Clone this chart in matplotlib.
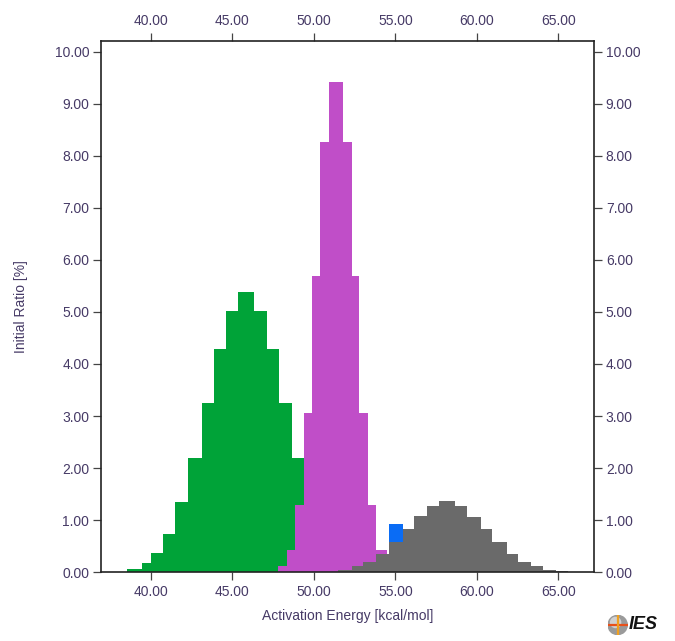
import numpy as np
import matplotlib
matplotlib.use("Agg")
import matplotlib.pyplot as plt
from matplotlib.patches import Circle

plt.rcParams.update({"font.family": ["Liberation Sans", "DejaVu Sans"], "font.size": 10})

# activation energy bins (kcal/mol edges) and initial ratio (%) per component
green_edges = [38.51, 39.43, 40.00, 40.76, 41.47, 42.29, 43.11, 43.87, 44.59, 45.36,
               46.32, 47.14, 47.84, 48.67, 49.39, 50.17, 50.95, 51.73, 52.51, 53.29]
green_ratio = [0.06, 0.17, 0.37, 0.74, 1.34, 2.20, 3.25, 4.28, 5.02, 5.38,
               5.02, 4.28, 3.25, 2.20, 1.34, 0.74, 0.37, 0.17, 0.06]

magenta_edges = [47.81, 48.33, 48.84, 49.39, 49.86, 50.37, 50.93, 51.80, 52.32,
                 52.79, 53.34, 53.81, 54.51, 54.98]
magenta_ratio = [0.12, 0.43, 1.28, 3.06, 5.69, 8.27, 9.42, 8.27, 5.69, 3.06, 1.28, 0.43, 0.12]

blue_edges = [54.61, 55.49]
blue_ratio = [0.93]

gray_edges = [51.50, 52.32, 53.03, 53.81, 54.61, 55.45, 56.14, 56.92, 57.70, 58.66,
              59.42, 60.23, 60.91, 61.82, 62.55, 63.33, 64.08, 64.86, 65.62]
gray_ratio = [0.03, 0.12, 0.20, 0.35, 0.58, 0.83, 1.08, 1.27, 1.36, 1.27,
              1.06, 0.83, 0.58, 0.35, 0.20, 0.11, 0.04, 0.02]

x_ticks = [40, 45, 50, 55, 60, 65]
y_ticks = list(range(0, 11))

LABEL = "#463a66"

fig = plt.figure(figsize=(6.75, 6.41), dpi=100)
ax = fig.add_axes([0.1496, 0.1076, 0.7304, 0.8284])


def draw(edges, ratio, color):
    e = np.array(edges)
    ax.bar(e[:-1], ratio, width=np.diff(e), align="edge", color=color,
           edgecolor="none", linewidth=0)


draw(green_edges, green_ratio, "#00a338")
draw(magenta_edges, magenta_ratio, "#c04ec8")
draw(blue_edges, blue_ratio, "#0a6cf5")
draw(gray_edges, gray_ratio, "#6a6a6a")

ax.set_xlim(36.93, 67.19)
ax.set_ylim(0, 10.21)
ax.set_xticks(x_ticks)
ax.set_yticks(y_ticks)
ax.xaxis.set_major_formatter(lambda v, p: f"{v:.2f}")
ax.yaxis.set_major_formatter(lambda v, p: f"{v:.2f}")
ax.tick_params(axis="both", which="both", direction="out", length=6, width=0.9,
               color="#444444", labelcolor=LABEL, labelsize=10, pad=2.5,
               top=True, right=True, labeltop=True, labelright=True)
ax.tick_params(axis="x", pad=3.5)
for s in ax.spines.values():
    s.set_color("#222222")
    s.set_linewidth(1.2)

ax.set_ylabel("Initial Ratio [%]", color=LABEL, fontsize=10, labelpad=19)
ax.set_xlabel("Activation Energy [kcal/mol]", color=LABEL, fontsize=10, labelpad=7)

# small IES logo in the corner
logo = fig.add_axes([0.900, 0.009, 0.03, 0.032])
logo.set_xlim(-1, 1); logo.set_ylim(-1, 1); logo.axis("off")
logo.set_aspect("equal")
logo.add_patch(Circle((0, 0), 0.95, color="#9a9a9a"))
logo.add_patch(Circle((-0.2, 0.25), 0.5, color="#d0d0d0"))
logo.plot([-0.95, 0.95], [0, 0], color="#e8501a", lw=1.6)
logo.plot([0, 0], [-0.95, 0.95], color="#f0a020", lw=1.6)
fig.text(0.932, 0.026, "IES", fontsize=13, fontstyle="italic", fontweight="bold",
         color="#111111", va="center", ha="left")

fig.savefig("out.png", dpi=100, facecolor="white")
